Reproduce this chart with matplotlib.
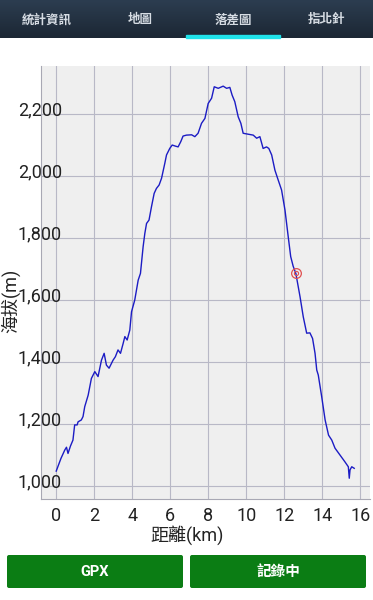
import numpy as np
import matplotlib
matplotlib.use("Agg")
import matplotlib.pyplot as plt
from matplotlib.patches import FancyBboxPatch, Rectangle
from matplotlib.transforms import ScaledTranslation
from matplotlib.ticker import FuncFormatter

plt.rcParams['font.family'] = ['Roboto', 'Noto Sans CJK TC', 'DejaVu Sans']

# 距離 (km) / 海拔 (m)
distance_km = [0.00, 0.25, 0.45, 0.54, 0.62, 0.75, 0.88, 0.97, 1.10, 1.15, 1.32, 1.41,
               1.50, 1.68, 1.85, 2.03, 2.20, 2.38, 2.52, 2.64, 2.78, 2.99, 3.11, 3.25,
               3.38, 3.52, 3.61, 3.73, 3.87, 3.96, 4.13, 4.31, 4.43, 4.57, 4.66, 4.75,
               4.88, 5.01, 5.15, 5.27, 5.41, 5.54, 5.71, 5.80, 5.97, 6.10, 6.24, 6.41,
               6.55, 6.67, 6.85, 7.12, 7.29, 7.46, 7.64, 7.82, 7.99, 8.17, 8.31, 8.52,
               8.78, 8.96, 9.13, 9.25, 9.39, 9.57, 9.71, 9.83, 10.09, 10.36, 10.54, 10.71,
               10.88, 11.06, 11.18, 11.33, 11.50, 11.64, 11.85, 12.03, 12.20, 12.33, 12.46,
               12.60, 12.82, 12.99, 13.17, 13.34, 13.48, 13.61, 13.70, 13.78, 13.96, 14.14,
               14.32, 14.49, 14.66, 14.92, 15.18, 15.36, 15.41, 15.45, 15.54, 15.67]
elevation_m = [1049, 1090, 1117, 1126, 1106, 1130, 1149, 1198, 1198, 1208, 1214, 1225,
               1257, 1294, 1348, 1370, 1354, 1407, 1429, 1391, 1381, 1407, 1418, 1440,
               1429, 1461, 1483, 1472, 1504, 1563, 1601, 1665, 1687, 1773, 1816, 1848,
               1859, 1902, 1945, 1961, 1972, 1994, 2042, 2069, 2090, 2101, 2098, 2095,
               2112, 2130, 2133, 2134, 2128, 2139, 2171, 2187, 2235, 2252, 2289, 2284,
               2291, 2284, 2287, 2262, 2241, 2192, 2171, 2139, 2136, 2133, 2123, 2128,
               2090, 2095, 2090, 2069, 2020, 1994, 1956, 1891, 1805, 1741, 1710,
               1687, 1612, 1547, 1494, 1495, 1477, 1429, 1375, 1359, 1289, 1214,
               1165, 1149, 1123, 1101, 1079, 1063, 1026, 1053, 1063, 1058]

# 目前位置
marker_km = 12.60
marker_m = 1687

x_ticks = [0, 2, 4, 6, 8, 10, 12, 14, 16]
y_ticks = [1000, 1200, 1400, 1600, 1800, 2000, 2200]
tabs = ['統計資訊', '地圖', '落差圖', '指北針']
buttons = ['GPX', '記錄中']

W, H = 373, 600
fig = plt.figure(figsize=(W / 100, H / 100), dpi=100)
fig.patch.set_facecolor('white')

# 圖表區
ax = fig.add_axes([41 / W, 1 - 499 / H, 329 / W, 433 / H])
ax.set_facecolor('#efefef')
ax.plot(distance_km, elevation_m, color='#1c1cc4', lw=1.0, zorder=3)
ax.plot(marker_km, marker_m, 'o', ms=7, mfc='none', mec='#e05050', mew=0.9, zorder=4)
ax.plot(marker_km, marker_m, 'o', ms=3, mfc='none', mec='#e05050', mew=0.8, zorder=4)

ax.set_xlim(-0.8, 16.5)
ax.set_ylim(959, 2356)
ax.set_xticks(x_ticks)
ax.set_yticks(y_ticks)
ax.yaxis.set_major_formatter(FuncFormatter(lambda v, p: f'{int(v):,}'))
ax.grid(True, color='#b8b8c6', lw=0.8)
ax.set_axisbelow(True)
for side in ['top', 'right']:
    ax.spines[side].set_visible(False)
for side in ['left', 'bottom']:
    ax.spines[side].set_color('#a8a8b4')
    ax.spines[side].set_linewidth(0.8)

ax.tick_params(axis='both', length=0, labelsize=13, labelcolor='#222222')
ax.tick_params(axis='x', pad=6)
ax.tick_params(axis='y', pad=-15)
shift = ScaledTranslation(0, 6 / 100, fig.dpi_scale_trans)
for lab in ax.get_yticklabels():
    lab.set_transform(lab.get_transform() + shift)

ax.set_xlabel('距離(km)', fontsize=13, color='#222222')
ax.xaxis.set_label_coords((187 - 41) / 329, (499 - 535) / 433)
ax.xaxis.label.set_va('center')
ax.set_ylabel('海拔(m)', fontsize=13, color='#222222')
ax.yaxis.set_label_coords((11 - 41) / 329, (499 - 301) / 433)
ax.yaxis.label.set_va('center')
ax.yaxis.label.set_rotation_mode('default')

# 上方分頁列與下方按鈕
ui = fig.add_axes([0, 0, 1, 1], zorder=-1)
grad = np.linspace(0, 1, 40).reshape(-1, 1)
ui.imshow(grad, cmap=matplotlib.colors.LinearSegmentedColormap.from_list('bar', ['#2c3d50', '#1c2734']),
          extent=[0, W, 38, 0], aspect='auto')
ui.set_xlim(0, W)
ui.set_ylim(H, 0)
ui.axis('off')
ui.add_patch(Rectangle((186, 34.5), 94, 3.5, color='#1fe3ea'))
for i, name in enumerate(tabs):
    ui.text(46.7 + i * 93.3, 20, name, color='#d6dce3', fontsize=9, fontweight='bold',
            ha='center', va='center')

for i, name in enumerate(buttons):
    x0 = 7 + i * 183
    ui.add_patch(FancyBboxPatch((x0 + 2, 557), 172, 29, boxstyle='round,pad=2',
                                fc='#0b7d14', ec='none'))
    ui.text(x0 + 88, 572, name, color='white', fontsize=10.5, fontweight='bold',
            ha='center', va='center')

fig.savefig('out.png', dpi=100)
